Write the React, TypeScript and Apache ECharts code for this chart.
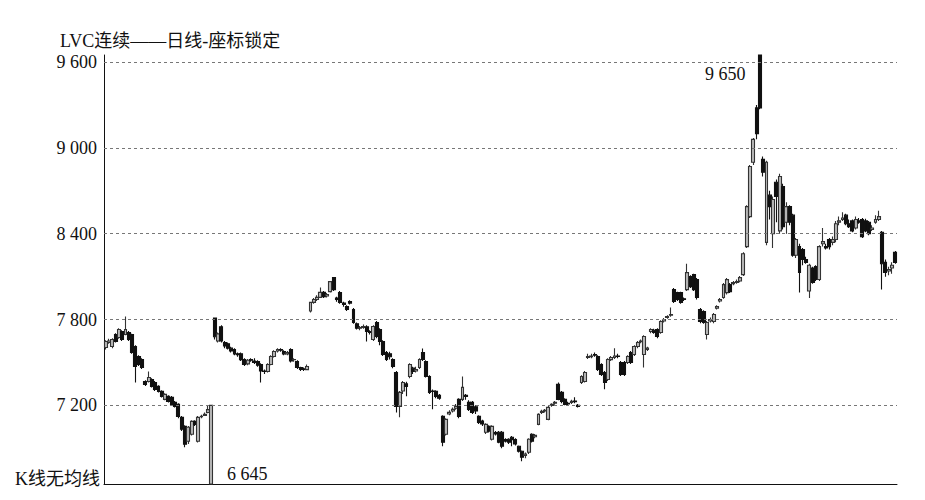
import React, { useEffect, useRef } from "react";
import * as echarts from "echarts";

// y-axis tick labels / dashed grid lines
const yTicks = [7200, 7800, 8400, 9000, 9600];

// daily candles (open, close, low, high)
const opens = [
  7605, 7640, 7612, 7695, 7674, 7716, 7695, 7709, 7695, 7612, 7542, 7521, 7367, 7367, 7381, 7360, 7333, 7298, 7242, 7263,
  7256, 7221, 7207, 7116, 7053, 6949, 6998, 7088, 6949, 7120, 7130, 7150, 6650, 7810, 7650, 7750, 7640, 7630, 7600, 7590,
  7560, 7560, 7520, 7490, 7521, 7510, 7507, 7486, 7440, 7437, 7486, 7542, 7580, 7591, 7577, 7560, 7591, 7520, 7507, 7465,
  7455, 7450, 7860, 7920, 7940, 7955, 7990, 7965, 7995, 8093, 7950, 7988, 7915, 7891, 7926, 7870, 7770, 7740, 7745, 7750,
  7716, 7660, 7779, 7730, 7647, 7570, 7560, 7521, 7430, 7193, 7300, 7350, 7402, 7460, 7440, 7465, 7570, 7507, 7402, 7300,
  7298, 7270, 7123, 6998, 7140, 7160, 7180, 7242, 7242, 7270, 7221, 7221, 7190, 7123, 7090, 7012, 7053, 6963, 7010, 7012,
  7012, 6960, 6963, 6977, 6960, 6914, 6879, 6850, 6872, 6998, 6980, 7067, 7150, 7160, 7102, 7200, 7215, 7347, 7291, 7242,
  7215, 7220, 7230, 7200, 7360, 7367, 7535, 7540, 7556, 7542, 7486, 7430, 7381, 7520, 7535, 7545, 7500, 7500, 7500, 7570,
  7556, 7612, 7645, 7556, 7591, 7716, 7725, 7730, 7709, 7790, 7815, 7830, 8009, 7988, 7988, 7945, 8009, 8100, 8114, 8079,
  7870, 7856, 7695, 7790, 7786, 7880, 7930, 7954, 7988, 8044, 8050, 8060, 8070, 8114, 8310, 8520, 8900, 9280, 9650, 8920,
  8340, 8670, 8400, 8760, 8420, 8730, 8480, 8590, 8530, 8250, 8310, 8290, 8220, 8000, 8160, 8170, 8080, 8330, 8310, 8360,
  8340, 8360, 8480, 8500, 8530, 8470, 8490, 8440, 8490, 8500, 8490, 8480, 8430, 8480, 8500, 8410, 8200, 8140, 8160, 8270,
];
const closes = [
  7647, 7650, 7660, 7647, 7730, 7660, 7730, 7660, 7570, 7472, 7486, 7465, 7347, 7395, 7333, 7312, 7298, 7263, 7277, 7228,
  7207, 7193, 7123, 7033, 6928, 7047, 7088, 7067, 7116, 7123, 7137, 7170, 7200, 7680, 7700, 7650, 7615, 7600, 7580, 7560,
  7555, 7520, 7486, 7515, 7515, 7500, 7480, 7440, 7437, 7486, 7542, 7577, 7591, 7585, 7560, 7570, 7510, 7521, 7465, 7451,
  7451, 7472, 7920, 7940, 7955, 7990, 7960, 7975, 8065, 8009, 7940, 7919, 7905, 7870, 7915, 7779, 7740, 7744, 7751, 7716,
  7709, 7751, 7681, 7647, 7556, 7521, 7540, 7472, 7193, 7291, 7360, 7333, 7486, 7437, 7451, 7521, 7521, 7402, 7291, 7298,
  7263, 7250, 6942, 7102, 7151, 7172, 7193, 7123, 7326, 7263, 7172, 7151, 7160, 7081, 7070, 7067, 7020, 7053, 7000, 6942,
  6914, 6950, 6942, 6960, 6930, 6879, 6837, 6860, 6963, 6949, 6990, 7137, 7158, 7165, 7186, 7207, 7221, 7242, 7228, 7207,
  7210, 7228, 7225, 7193, 7402, 7430, 7542, 7545, 7550, 7451, 7416, 7360, 7521, 7535, 7545, 7542, 7416, 7416, 7542, 7500,
  7612, 7640, 7650, 7681, 7600, 7730, 7709, 7681, 7786, 7800, 7821, 7835, 7926, 7940, 7919, 7940, 8128, 8030, 8009, 7954,
  7786, 7779, 7779, 7800, 7835, 7891, 7940, 8044, 8079, 7995, 8058, 8065, 8093, 8260, 8590, 8870, 9060, 9100, 9280, 8830,
  8900, 8590, 8640, 8660, 8800, 8450, 8590, 8480, 8250, 8360, 8130, 8220, 8200, 8180, 8060, 8080, 8310, 8345, 8300, 8310,
  8360, 8470, 8490, 8510, 8470, 8450, 8420, 8500, 8480, 8380, 8420, 8400, 8440, 8500, 8520, 8190, 8130, 8150, 8180, 8200,
];
const lows = [
  7590, 7630, 7600, 7640, 7665, 7650, 7690, 7650, 7560, 7360, 7475, 7455, 7335, 7360, 7325, 7300, 7290, 7255, 7235, 7220,
  7200, 7185, 7110, 7020, 6907, 6930, 6990, 7055, 6940, 7110, 7125, 7145, 6645, 7660, 7640, 7640, 7600, 7590, 7570, 7550,
  7540, 7510, 7475, 7480, 7505, 7490, 7470, 7360, 7420, 7430, 7480, 7535, 7570, 7575, 7550, 7550, 7500, 7505, 7455, 7440,
  7440, 7445, 7850, 7910, 7930, 7950, 7950, 7955, 7990, 8000, 7925, 7910, 7890, 7860, 7905, 7770, 7730, 7725, 7735, 7647,
  7695, 7650, 7670, 7620, 7545, 7510, 7520, 7460, 7150, 7116, 7280, 7263, 7390, 7420, 7430, 7455, 7510, 7395, 7280, 7172,
  7250, 7240, 6914, 6990, 7130, 7150, 7170, 7110, 7230, 7240, 7160, 7140, 7140, 7070, 7055, 7000, 7010, 6955, 6990, 6935,
  6900, 6940, 6930, 6914, 6920, 6870, 6809, 6830, 6860, 6940, 6970, 7060, 7140, 7150, 7095, 7190, 7205, 7235, 7215, 7200,
  7200, 7210, 7215, 7185, 7350, 7360, 7525, 7530, 7540, 7440, 7405, 7312, 7370, 7510, 7525, 7530, 7405, 7405, 7490, 7490,
  7545, 7600, 7635, 7465, 7580, 7705, 7700, 7670, 7700, 7780, 7805, 7820, 7915, 7930, 7910, 7930, 8000, 8020, 8000, 7940,
  7775, 7770, 7660, 7780, 7775, 7870, 7920, 7945, 7975, 7985, 8040, 8050, 8060, 8105, 8300, 8510, 8880, 9060, 9270, 8800,
  8320, 8500, 8300, 8480, 8400, 8430, 8400, 8460, 8240, 8230, 7990, 8180, 8190, 7950, 8050, 8070, 8070, 8310, 8290, 8290,
  8320, 8340, 8460, 8490, 8460, 8440, 8410, 8430, 8470, 8370, 8410, 8390, 8420, 8470, 8490, 8010, 8100, 8110, 8120, 8190,
];
const highs = [
  7655, 7665, 7670, 7705, 7740, 7725, 7821, 7720, 7700, 7620, 7550, 7530, 7375, 7437, 7390, 7370, 7340, 7305, 7285, 7270,
  7265, 7230, 7215, 7125, 7060, 7055, 7095, 7095, 7125, 7135, 7150, 7200, 7200, 7815, 7710, 7760, 7650, 7640, 7610, 7600,
  7570, 7570, 7530, 7525, 7530, 7530, 7515, 7495, 7450, 7495, 7550, 7585, 7600, 7600, 7585, 7580, 7600, 7530, 7515, 7470,
  7465, 7485, 7925, 7950, 7970, 8025, 8000, 7985, 8070, 8095, 7960, 8000, 7925, 7900, 7935, 7880, 7780, 7755, 7765, 7760,
  7725, 7760, 7790, 7740, 7655, 7580, 7575, 7530, 7440, 7300, 7370, 7365, 7495, 7470, 7470, 7530, 7598, 7515, 7410, 7310,
  7305, 7280, 7130, 7110, 7165, 7185, 7210, 7250, 7402, 7280, 7235, 7230, 7200, 7130, 7100, 7075, 7060, 7060, 7020, 7020,
  7020, 6970, 6970, 6985, 6970, 6920, 6885, 6870, 6970, 7005, 7000, 7145, 7170, 7175, 7195, 7215, 7230, 7360, 7300, 7250,
  7225, 7240, 7256, 7210, 7410, 7440, 7560, 7560, 7570, 7550, 7495, 7440, 7530, 7545, 7600, 7560, 7510, 7510, 7550, 7580,
  7620, 7650, 7660, 7690, 7610, 7740, 7735, 7740, 7795, 7810, 7830, 7884, 8020, 7995, 7995, 7955, 8190, 8110, 8120, 8090,
  7880, 7865, 7790, 7815, 7845, 7900, 7950, 8055, 8090, 8055, 8070, 8080, 8105, 8270, 8600, 8880, 9070, 9300, 9650, 8940,
  8910, 8700, 8660, 8780, 8820, 8750, 8620, 8600, 8540, 8370, 8330, 8300, 8240, 8190, 8170, 8180, 8320, 8440, 8330, 8370,
  8380, 8490, 8520, 8550, 8540, 8500, 8500, 8520, 8510, 8510, 8505, 8490, 8460, 8530, 8560, 8420, 8220, 8170, 8200, 8280,
];
const categories = opens.map((_, i) => `D${i + 1}`);

const titleText = "LVC连续——日线-座标锁定";
const footText = "K线无均线";
const peakText = "9 650";
const troughText = "6 645";

const fmt = (v: number) => String(v).replace(/\B(?=(\d{3})+(?!\d))/g, " ");

export default function App() {
  const ref = useRef<HTMLDivElement>(null);
  useEffect(() => {
    const chart = echarts.init(ref.current!, null, { renderer: "svg" });
    const serif = "'Liberation Serif', 'Noto Sans CJK SC', serif";
    chart.setOption({
      animation: false,
      backgroundColor: "#ffffff",
      grid: { left: 104, right: 28, top: 55, bottom: 16 },
      xAxis: {
        type: "category",
        data: categories,
        boundaryGap: true,
        axisLine: { show: true, lineStyle: { color: "#111", width: 1 } },
        axisTick: { show: false },
        axisLabel: { show: false },
        splitLine: { show: false },
      },
      yAxis: {
        type: "value",
        min: 6650,
        max: 9650,
        axisLine: { show: true, lineStyle: { color: "#111", width: 1 } },
        axisTick: { show: false },
        splitLine: { show: false },
        axisLabel: {
          customValues: yTicks,
          formatter: (v: number) => fmt(v),
          fontFamily: serif,
          fontSize: 18,
          color: "#111",
          margin: 7,
        },
      },
      series: [
        {
          type: "candlestick",
          data: opens.map((o, i) => [o, closes[i], lows[i], highs[i]]),
          barWidth: 3.4,
          itemStyle: {
            color: "#bbbbbb",
            color0: "#111111",
            borderColor: "#333333",
            borderColor0: "#111111",
            borderWidth: 1.1,
          },
          markLine: {
            silent: true,
            symbol: ["none", "none"],
            label: { show: false },
            lineStyle: { type: [3, 3], color: "#777777", width: 1 },
            data: yTicks.map((v) => ({ yAxis: v })),
          },
        },
      ],
      graphic: [
        {
          type: "text",
          left: 60,
          top: 32,
          style: { text: titleText, fontSize: 18, fontFamily: serif, fill: "#111" },
        },
        {
          type: "text",
          left: 15,
          top: 470,
          style: { text: footText, fontSize: 18, fontFamily: serif, fill: "#111" },
        },
        {
          type: "text",
          left: 705,
          top: 65,
          style: { text: peakText, fontSize: 18, fontFamily: serif, fill: "#111" },
        },
        {
          type: "text",
          left: 227,
          top: 465,
          style: { text: troughText, fontSize: 18, fontFamily: serif, fill: "#111" },
        },
      ],
    });
    return () => chart.dispose();
  }, []);
  return (
    <div
      ref={ref}
      style={{ position: "absolute", left: 0, top: 0, width: 925, height: 500, background: "#fff" }}
    />
  );
}
